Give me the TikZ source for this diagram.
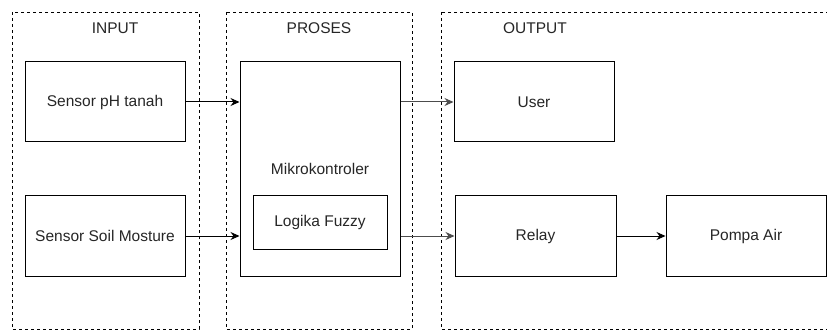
\documentclass[tikz,border=0pt]{standalone}
\usepackage{fontspec}
\setmainfont{Liberation Sans}
\usetikzlibrary{positioning,arrows.meta}

\begin{document}
\begin{tikzpicture}[x=1pt, y=-1pt, font=\fontsize{15.5}{18}\selectfont,
    blok/.style={rectangle,draw,line width=1pt,text=black!85,minimum width=160pt,minimum height=80pt,inner sep=0pt},
    grup/.style={draw,line width=0.9pt,dash pattern=on 3pt off 3pt},
    judul/.style={text=black!85,inner sep=0pt},
    panah/.style={line width=1pt,-{Stealth[length=9pt,width=8pt]}}]
    \useasboundingbox (0,0) rectangle (827,331);

    % Kelompok input, proses, output
    \draw[grup] (12,12) rectangle (199,329);
    \draw[grup] (226,12) rectangle (412,329);
    \draw[grup] (441,12) rectangle (840,329);
    \node[judul] (input) at (115,28) {INPUT};
    \node[judul] (proses) at (319,28) {PROSES};
    \node[judul] (output) at (535,28) {OUTPUT};

    % Blok
    \node[blok] (ph) at (105,102) {Sensor pH tanah};
    \node[blok] (soil) at (105,236) {Sensor Soil Mosture};
    \node[blok, minimum height=214pt] (mikro) at (320,169) {Mikrokontroler};
    \node[blok, minimum width=134pt, minimum height=53pt] (fuzzy) at (320,222.5) {Logika Fuzzy};
    \node[blok] (user) at (534,102) {User};
    \node[blok, minimum width=161pt] (relay) at (535.5,236) {Relay};
    \node[blok] (pompa) at (746,236) {Pompa Air};

    % Aliran data
    \draw[panah] (ph.east) -- (ph.east -| mikro.west);
    \draw[panah] (soil.east) -- (soil.east -| mikro.west);
    \draw[panah, black!70] (mikro.east |- user) -- (user.west);
    \draw[panah, black!70] (mikro.east |- relay) -- (relay.west);
    \draw[panah] (relay) -- (pompa);
\end{tikzpicture}
\end{document}
